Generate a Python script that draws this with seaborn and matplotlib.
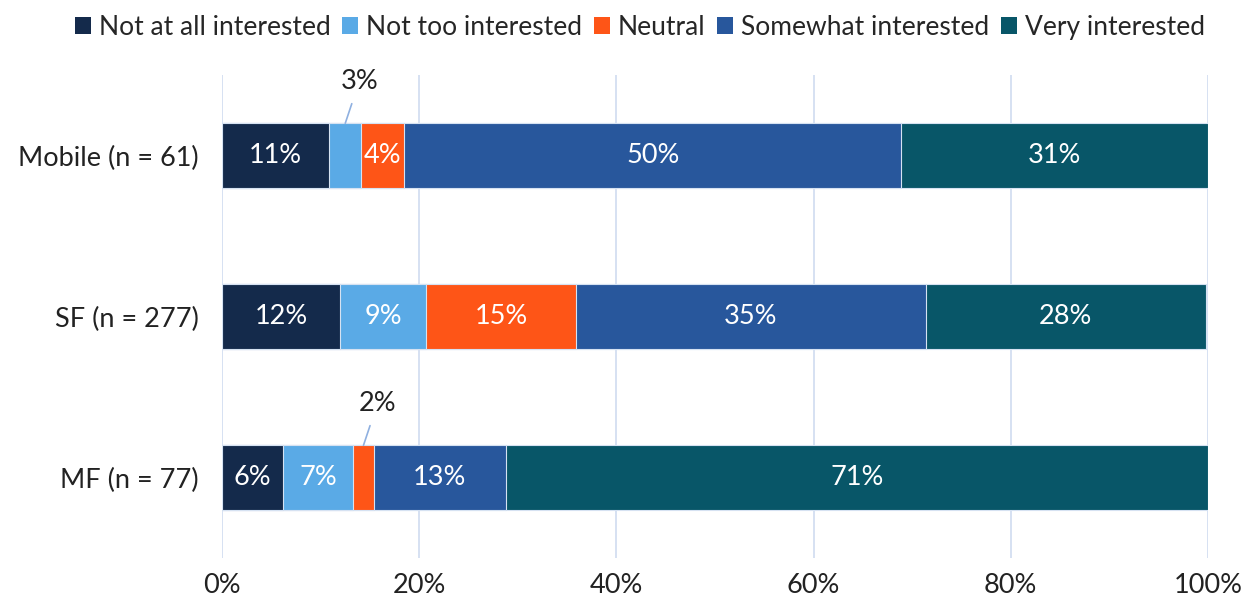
import matplotlib
matplotlib.use("Agg")
import matplotlib.pyplot as plt
import seaborn as sns
import numpy as np
import pandas as pd

categories = ["Mobile (n = 61)", "SF (n = 277)", "MF (n = 77)"]
series = ["Not at all interested", "Not too interested", "Neutral",
          "Somewhat interested", "Very interested"]
not_at_all = [10.9, 12.0, 6.2]
not_too = [3.2, 8.7, 7.1]
neutral = [4.4, 15.2, 2.1]
somewhat = [50.4, 35.45, 13.4]
very = [31.1, 28.45, 71.2]
colors = ["#142a4b", "#5aaae6", "#fe5517", "#28579c", "#085668"]
xticks = [0, 20, 40, 60, 80, 100]

sns.set_theme(style="white")
plt.rcParams['font.family'] = ['Lato', 'DejaVu Sans']
FS = 19.5

values = [not_at_all, not_too, neutral, somewhat, very]
df = pd.DataFrame({s: v for s, v in zip(series, values)}, index=categories)
cum = df.cumsum(axis=1)

fig = plt.figure(figsize=(12.5, 6.04), dpi=100)
ax = fig.add_axes([0.1776, 0.0762, 0.7888, 0.7996])

for s, c in reversed(list(zip(series, colors))):
    d = pd.DataFrame({"cat": categories, "val": cum[s].values})
    sns.barplot(data=d, x="val", y="cat", color=c, width=0.4, ax=ax,
                edgecolor="#d6e2f2", linewidth=0.8, label=s, zorder=3,
                saturation=1)

ax.set_xlim(0, 100)
ax.set_ylim(2.5, -0.5)
ax.set_xticks(xticks)
ax.set_xticklabels([f"{t}%" for t in xticks])
ax.set_xlabel("")
ax.set_ylabel("")
ax.grid(axis="x", color="#cfdcf0", linewidth=1.2, zorder=0)
ax.set_axisbelow(True)
for sp in ax.spines.values():
    sp.set_visible(False)
ax.tick_params(axis="both", length=0, labelsize=FS, colors="#222222")
ax.tick_params(axis="y", pad=17)
ax.tick_params(axis="x", pad=11)

# labels
for i, cat in enumerate(categories):
    left = 0.0
    for s in series:
        v = df.loc[cat, s]
        center = left + v / 2
        label = f"{int(round(v))}%"
        if v < 4:
            ax.annotate(label, xy=(center, i - 0.2), xytext=(14, 42),
                        textcoords="offset pixels", ha="center", va="center",
                        fontsize=FS, color="#222222",
                        arrowprops=dict(arrowstyle="-", color="#8fb0e0",
                                        lw=1.2, shrinkA=5, shrinkB=0))
        else:
            ax.text(center, i, label, ha="center", va="center",
                    fontsize=FS, color="white", zorder=5)
        left += v

# legend
handles, labels = ax.get_legend_handles_labels()
order = [labels.index(s) for s in series]
leg = fig.legend([handles[k] for k in order], [labels[k] for k in order],
                 loc="upper center", bbox_to_anchor=(0.512, 1.015), ncol=5,
                 frameon=False, fontsize=19, handlelength=0.6,
                 handleheight=0.6, handletextpad=0.3, columnspacing=0.45)
for h in leg.legend_handles:
    h.set_edgecolor("none")
if ax.legend_:
    ax.legend_.remove()

fig.savefig("out.png", dpi=100)
